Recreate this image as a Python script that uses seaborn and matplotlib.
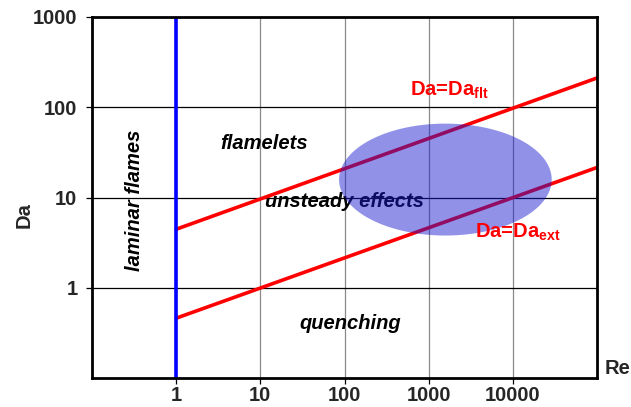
import numpy as np
import pandas as pd
import matplotlib
matplotlib.use("Agg")
import matplotlib.pyplot as plt
import seaborn as sns

# ---- data ----
re_line = [1, 100000]
da_flt = [4.45, 211]
da_ext = [0.46, 21.5]
laminar_x = [1, 1]
laminar_y = [0.1, 1000]
x_ticks = [1, 10, 100, 1000, 10000]
x_tick_labels = ["1", "10", "100", "1000", "10000"]
y_ticks = [1, 10, 100, 1000]
y_tick_labels = ["1", "10", "100", "1000"]
# ellipse (log-space centre and semi-axes, in decades)
ell_center = (1580, 15.8)
ell_semi = (1.263, 0.62)

sns.set_style("white")
plt.rcParams['font.family'] = ['Liberation Sans', 'DejaVu Sans']
plt.rcParams['mathtext.fontset'] = 'custom'
plt.rcParams['mathtext.bf'] = 'Liberation Sans:bold'
plt.rcParams['mathtext.rm'] = 'Liberation Sans'

fig = plt.figure(figsize=(6.31, 4.07), dpi=100)
ax = fig.add_axes([92/631, 1-378/407, (597-92)/631, (378-17)/407])
ax.set_xscale("log")
ax.set_yscale("log")
ax.set_xlim(0.1, 100000)
ax.set_ylim(0.1, 1000)

# grid
for xv in x_ticks:
    ax.axvline(xv, color="#8a8a8a", lw=0.9, zorder=1)
for yv in y_ticks[:-1]:
    ax.axhline(yv, color="black", lw=0.9, zorder=1)

df = pd.DataFrame({"Re": re_line, "flt": da_flt, "ext": da_ext})
sns.lineplot(data=df, x="Re", y="flt", color="#ff0000", lw=2.6, ax=ax, zorder=3)
sns.lineplot(data=df, x="Re", y="ext", color="#ff0000", lw=2.6, ax=ax, zorder=3)
sns.lineplot(x=laminar_x, y=laminar_y, color="#0000ff", lw=2.6, ax=ax,
             estimator=None, sort=False, zorder=4)

# region labels
tkw = dict(fontsize=14.5, fontweight="bold", fontstyle="italic", color="black")
ax.text(0.32, 9.2, "laminar flames", rotation=90, ha="center", va="center", zorder=2, **tkw)
ax.text(11, 40, "flamelets", ha="center", va="center", zorder=2, **tkw)
ax.text(100, 9.1, "unsteady effects", ha="center", va="center", zorder=2, **tkw)
ax.text(118, 0.40, "quenching", ha="center", va="center", zorder=2, **tkw)

# ellipse in log space
t = np.linspace(0, 2*np.pi, 200)
ex = 10 ** (np.log10(ell_center[0]) + ell_semi[0] * np.cos(t))
ey = 10 ** (np.log10(ell_center[1]) + ell_semi[1] * np.sin(t))
ax.fill(ex, ey, color="#1a1ad0", alpha=0.48, lw=0, zorder=5)

ax.text(1770, 155, r"Da=Da$_{\mathbf{flt}}$", color="#ff0000", fontsize=14.5,
        fontweight="bold", ha="center", va="center", zorder=6)
ax.text(11500, 4.1, r"Da=Da$_{\mathbf{ext}}$", color="#ff0000", fontsize=14.5,
        fontweight="bold", ha="center", va="center", zorder=6)

ax.set_xticks(x_ticks)
ax.set_xticklabels(x_tick_labels)
ax.set_yticks(y_ticks)
ax.set_yticklabels(y_tick_labels)
ax.minorticks_off()
ax.tick_params(axis="both", which="major", direction="out", length=4.5, width=0.9,
               color="black", labelsize=14.5, bottom=True, left=True)
ax.tick_params(axis="x", pad=1.5)
ax.tick_params(axis="y", pad=6)
for lab in ax.get_xticklabels() + ax.get_yticklabels():
    lab.set_fontweight("bold")

ax.set_xlabel("")
ax.set_ylabel("")
ax.text(-0.134, 0.45, "Da", rotation=90, ha="center", va="center",
        fontsize=14.5, fontweight="bold", transform=ax.transAxes)
ax.text(1.04, 0.025, "Re", ha="center", va="center",
        fontsize=14.5, fontweight="bold", transform=ax.transAxes)

for s in ax.spines.values():
    s.set_visible(True)
    s.set_color("black")
    s.set_linewidth(2.0)
    s.set_zorder(7)

fig.savefig("out.png", dpi=100)
